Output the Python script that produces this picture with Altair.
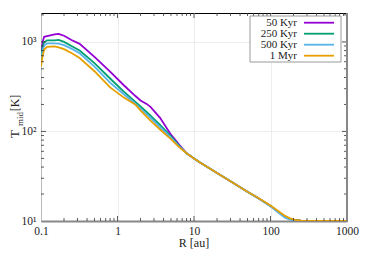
import altair as alt
import pandas as pd

# ---------------- data ----------------
R = [0.1, 0.105, 0.11, 0.12, 0.15, 0.17, 0.2, 0.25, 0.32, 0.5, 0.8, 1.2, 1.7, 2.0, 2.4, 2.7,
     3.6, 5.0, 6.5, 8, 10, 12, 20, 30, 50, 73, 100, 130, 155, 180, 210, 250, 300, 500, 1000]

T_50kyr = [720, 1000, 1140, 1160, 1210, 1225, 1170, 1050, 950, 680, 465, 330, 250, 222, 203, 188,
           142, 92, 70, 57, 50, 45, 34.3, 27.8, 21.2, 17.5, 14.7, 12.4, 11.1, 10.5, 10.2, 10.08, 10.04, 10.02, 10.02]
T_250kyr = [660, 880, 990, 1040, 1040, 1050, 1000, 900, 800, 580, 390, 280, 215, 190, 165, 150,
            118, 88, 68, 57, 50, 45, 34.3, 27.8, 21.2, 17.5, 14.7, 12.4, 11.1, 10.5, 10.2, 10.08, 10.04, 10.02, 10.02]
T_500kyr = [600, 800, 910, 960, 960, 955, 920, 840, 745, 530, 350, 262, 205, 180, 156, 142,
            112, 85, 67, 57, 50, 45, 34.3, 27.8, 21.2, 17.5, 14.6, 12.2, 10.9, 10.35, 10.12, 10.05, 10.03, 10.02, 10.02]
T_1myr = [530, 700, 820, 880, 890, 870, 830, 750, 660, 470, 310, 240, 200, 172, 146, 132,
          105, 82, 66, 57, 50, 45, 34.3, 27.8, 21.2, 17.6, 14.9, 12.7, 11.4, 10.7, 10.3, 10.1, 10.05, 10.03, 10.03]

series_names = ["50 Kyr", "250 Kyr", "500 Kyr", "1 Myr"]
series_values = [T_50kyr, T_250kyr, T_500kyr, T_1myr]
series_colors = ["#9400D3", "#009E73", "#56B4E9", "#E69F00"]

x_labels = [0.1, 1, 10, 100, 1000]
y_labels = [10, 100, 1000]
x_major = [1, 10, 100]
x_minor = [0.2, 0.3, 0.4, 0.5, 0.6, 0.7, 0.8, 0.9, 2, 3, 4, 5, 6, 7, 8, 9,
           20, 30, 40, 50, 60, 70, 80, 90, 200, 300, 400, 500, 600, 700, 800, 900]
y_major = [100, 1000]
y_minor = [20, 30, 40, 50, 60, 70, 80, 90, 200, 300, 400, 500, 600, 700, 800, 900, 2000]

# ---------------- layout ----------------
W, H = 306, 208
FONT = "Liberation Serif"
x_scale = alt.Scale(type="log", domain=[0.1, 1000], nice=False)
y_scale = alt.Scale(type="log", domain=[10, 2100], nice=False)

x_axis = alt.Axis(values=x_labels, format="~g", title="",
                  grid=True, gridColor="#e8e8e8", gridWidth=0.8, ticks=False,
                  domain=True, domainColor="#888888", domainWidth=2,
                  labelFont=FONT, labelFontSize=11.5, labelColor="#222222", labelPadding=4,
                  labelFlush=False)
y_axis = alt.Axis(values=y_labels,
                  labelExpr="datum.value == 10 ? '10¹' : (datum.value == 100 ? '10²' : '10³')",
                  title="", grid=True, gridColor="#e8e8e8", gridWidth=0.8, ticks=False,
                  domain=False, labelFont=FONT, labelFontSize=11.5, labelColor="#222222",
                  labelPadding=5, labelFlush=False)

layers = []
for name, vals, col in zip(series_names, series_values, series_colors):
    df = pd.DataFrame({"R": R, "T": vals, "series": name})
    layers.append(
        alt.Chart(df).mark_line(color=col, strokeWidth=1.8, clip=True).encode(
            x=alt.X("R:Q", scale=x_scale, axis=x_axis),
            y=alt.Y("T:Q", scale=y_scale, axis=y_axis),
        )
    )

def xticks(vals, y0, y1):
    return alt.Chart(pd.DataFrame({"R": vals})).mark_rule(color="#333333", strokeWidth=0.8).encode(
        x=alt.X("R:Q", scale=x_scale, axis=x_axis), y=alt.value(y0), y2=alt.value(y1))

def yticks(vals, x0, x1):
    return alt.Chart(pd.DataFrame({"T": vals})).mark_rule(color="#333333", strokeWidth=0.8).encode(
        y=alt.Y("T:Q", scale=y_scale, axis=y_axis), x=alt.value(x0), x2=alt.value(x1))

tick_layers = [
    xticks(x_major, H, H - 5), xticks(x_minor, H, H - 3),
    xticks(x_major, 0, 5), xticks(x_minor, 0, 3),
    yticks(y_major, 0, 5), yticks(y_minor, 0, 3),
    yticks(y_major, W, W - 5), yticks(y_minor, W, W - 3),
]

dummy = pd.DataFrame({"a": [0]})
right_border = alt.Chart(dummy).mark_rule(color="#888888", strokeWidth=2).encode(
    x=alt.value(W), y=alt.value(0), y2=alt.value(H + 1))

# legend (labels left of line samples, as in the reference)
legend_layers = [
    alt.Chart(dummy).mark_rect(fill="white", stroke="#999999", strokeWidth=1).encode(
        x=alt.value(209), x2=alt.value(300), y=alt.value(3), y2=alt.value(49))
]
for i, (name, col) in enumerate(zip(series_names, series_colors)):
    yy = 9.7 + 11 * i
    legend_layers.append(
        alt.Chart(dummy).mark_text(text=name, align="right", baseline="middle", font=FONT,
                                   fontSize=11, color="#222222").encode(
            x=alt.value(256), y=alt.value(yy)))
    legend_layers.append(
        alt.Chart(dummy).mark_rule(color=col, strokeWidth=1.8).encode(
            x=alt.value(263), x2=alt.value(293), y=alt.value(yy)))

# axis titles: R [au] and T_mid [K] (with subscript)
titles = [
    alt.Chart(dummy).mark_text(text="R [au]", align="center", baseline="alphabetic",
                               font=FONT, fontSize=12, color="#222222").encode(
        x=alt.value(W / 2), y=alt.value(H + 26)),
    alt.Chart(dummy).mark_text(text="T", angle=270, align="center", baseline="middle",
                               font=FONT, fontSize=13, color="#222222").encode(
        x=alt.value(-26.5), y=alt.value(121)),
    alt.Chart(dummy).mark_text(text="mid", angle=270, align="center", baseline="middle",
                               font=FONT, fontSize=9, color="#222222").encode(
        x=alt.value(-21), y=alt.value(106)),
    alt.Chart(dummy).mark_text(text="[K]", angle=270, align="center", baseline="middle",
                               font=FONT, fontSize=12, color="#222222").encode(
        x=alt.value(-26.5), y=alt.value(90)),
]

chart = alt.layer(*layers, *tick_layers, right_border, *legend_layers, *titles).properties(
    width=W, height=H,
    autosize=alt.AutoSizeParams(type="none"),
    padding={"left": 33, "top": 5, "right": 13, "bottom": 29},
    background="white",
).configure_view(stroke="black", strokeWidth=1)

chart.save("out.html", embed_options={"renderer": "svg", "actions": False})
